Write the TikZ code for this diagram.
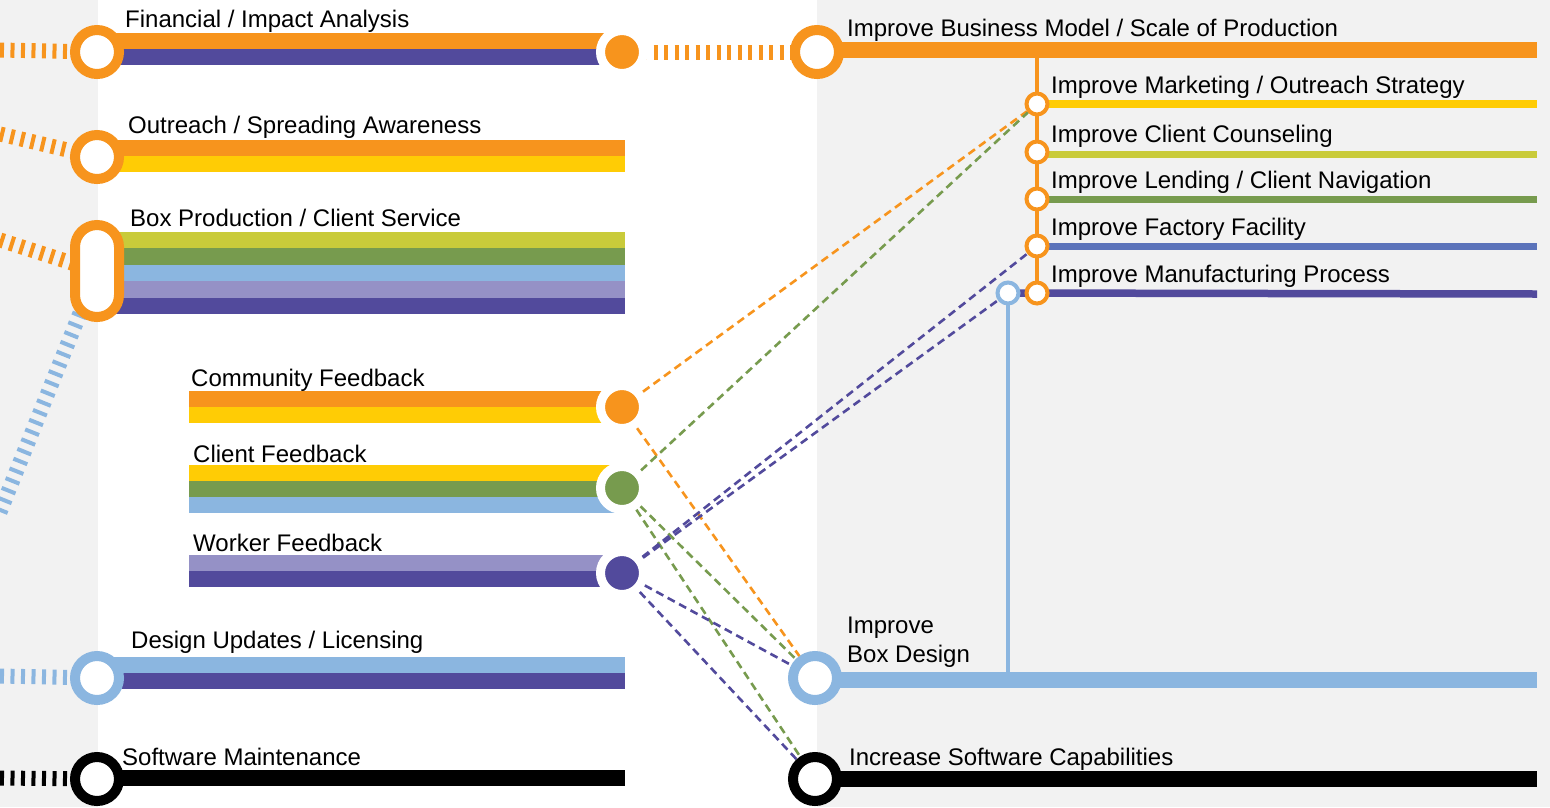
\documentclass[tikz,border=0pt]{standalone}
\usepackage{fontspec}
\setmainfont{Liberation Sans}
\usetikzlibrary{positioning}
\pgfdeclarelayer{back}
\pgfsetlayers{back,main}

\definecolor{mOrange}{HTML}{F7941D}
\definecolor{mPurple}{HTML}{524A9C}
\definecolor{mYellow}{HTML}{FFCC05}
\definecolor{mLime}{HTML}{C9CB3A}
\definecolor{mGreen}{HTML}{779B4E}
\definecolor{mSky}{HTML}{8BB6E0}
\definecolor{mLilac}{HTML}{9591C6}
\definecolor{mBlue}{HTML}{5B73BA}
\definecolor{mGray}{HTML}{F2F2F2}

\tikzset{
  ring/.style={circle, draw=#1, line width=10pt, fill=white, minimum size=44pt, inner sep=0pt},
  dot/.style={circle, draw=white, line width=9pt, fill=#1, minimum size=43pt, inner sep=0pt},
  stop/.style={circle, draw=#1, line width=4pt, fill=white, minimum size=21pt, inner sep=0pt},
  band/.style={draw=#1, line width=16.5pt},
  thin band/.style={draw=#1, line width=7.5pt},
  spur/.style={draw=#1, line width=4pt},
  tie/.style={draw=#1, line width=15pt, dash pattern=on 4pt off 6.5pt},
  feed/.style={draw=#1, line width=2.6pt, dash pattern=on 8pt off 5pt},
  lbl/.style={anchor=base west, inner sep=0pt, font=\fontsize{24}{28}\selectfont},
}

\begin{document}
\begin{tikzpicture}[x=1pt, y=-1pt]
    \useasboundingbox (0,0) rectangle (1550,807);

    % stations, left
    \node[ring=mOrange] (fin) at (97,52) {};
    \node[ring=mOrange] (out) at (97,157) {};
    \node[draw=mOrange, line width=10pt, fill=white, rounded corners=22pt,
          minimum width=44pt, minimum height=92pt, inner sep=0pt] (bpr) at (97,271) {};
    \node[ring=mSky] (dup) at (97,678) {};
    \node[ring=black] (swm) at (97,779) {};
    \node[dot=mOrange] (fdot) at (622,52) {};
    \node[dot=mOrange] (cdot) at (622,407) {};
    \node[dot=mGreen] (kdot) at (622,488) {};
    \node[dot=mPurple] (wdot) at (622,573) {};

    % stations, right
    \node[ring=mOrange] (biz) at (817,52) {};
    \node[stop=mOrange] (mkt) at (1037,104) {};
    \node[stop=mOrange] (cns) at (1037,152) {};
    \node[stop=mOrange] (lnd) at (1037,199) {};
    \node[stop=mOrange] (fac) at (1037,246) {};
    \node[stop=mOrange] (mfg) at (1037,293) {};
    \node[stop=mSky] (lbx) at (1008,293) {};
    \node[ring=mSky] (bxd) at (815,678) {};
    \node[ring=black] (swc) at (815,779) {};

    % free ends
    \coordinate (finIn) at (0,50);
    \coordinate (outIn) at (0,134);
    \coordinate (bprIn) at (0,240);
    \coordinate (bprSky) at (0,512);
    \coordinate (dupIn) at (0,676);
    \coordinate (swmIn) at (0,778);

    \begin{pgfonlayer}{back}
        \fill[mGray] (0,0) rectangle (98,807);
        \fill[white] (98,0) rectangle (817,807);
        \fill[mGray] (817,0) rectangle (1550,807);

        \draw[tie=mOrange] (finIn) -- (fin.center);
        \draw[tie=mOrange] (outIn) -- (out.center);
        \draw[tie=mOrange] (bprIn) -- (bpr.center);
        \draw[tie=mSky] (bprSky) -- (bpr.center);
        \draw[tie=mSky] (dupIn) -- (dup.center);
        \draw[tie=black] (swmIn) -- (swm.center);
        \draw[tie=mOrange] (fdot.center) -- (biz.center);

        \foreach \c/\y in {mOrange/41, mPurple/57}
            \draw[band=\c] (97,\y) -- (622,\y);
        \foreach \c/\y in {mOrange/148, mYellow/164}
            \draw[band=\c] (97,\y) -- (625,\y);
        \foreach \c/\y in {mLime/240, mGreen/256.5, mSky/273, mLilac/289.5, mPurple/306}
            \draw[band=\c] (97,\y) -- (625,\y);
        \foreach \c/\y in {mOrange/399, mYellow/415}
            \draw[band=\c] (189,\y) -- (622,\y);
        \foreach \c/\y in {mYellow/473.5, mGreen/489.5, mSky/505}
            \draw[band=\c] (189,\y) -- (622,\y);
        \foreach \c/\y in {mLilac/563, mPurple/579}
            \draw[band=\c] (189,\y) -- (622,\y);
        \foreach \c/\y in {mSky/665, mPurple/681}
            \draw[band=\c] (97,\y) -- (625,\y);
        \draw[band=black] (97,778) -- (625,778);

        \draw[band=mOrange] (817,50) -- (1537,50);
        \draw[spur=mOrange] (1037,50) -- (mfg.center);
        \foreach \c/\y in {mYellow/104, mLime/154.5, mGreen/199.5, mBlue/246.5}
            \draw[thin band=\c] (1037,\y) -- (1537,\y);
        \draw[thin band=mPurple] (lbx.center) -- (1537,294);
        \draw[spur=mSky] (lbx.center) -- (1008,680);
        \draw[band=mSky] (815,680) -- (1537,680);
        \draw[band=black] (815,779) -- (1537,779);
    \end{pgfonlayer}

    % feedback links
    \draw[feed=mOrange] (cdot) -- (mkt);
    \draw[feed=mOrange] (cdot) -- (bxd);
    \draw[feed=mGreen] (kdot) -- (mkt);
    \draw[feed=mGreen] (kdot) -- (bxd);
    \draw[feed=mGreen] (kdot) -- (swc);
    \draw[feed=mPurple] (wdot) -- (fac);
    \draw[feed=mPurple] (wdot) -- (lbx);
    \draw[feed=mPurple] (wdot) -- (bxd);
    \draw[feed=mPurple] (wdot) -- (swc);

    % labels
    \node[lbl] (finT) at (125,27) {Financial / Impact Analysis};
    \node[lbl] (outT) at (128,133) {Outreach / Spreading Awareness};
    \node[lbl] (bprT) at (130,226) {Box Production / Client Service};
    \node[lbl] (cdotT) at (191,386) {Community Feedback};
    \node[lbl] (kdotT) at (193,462) {Client Feedback};
    \node[lbl] (wdotT) at (193,551) {Worker Feedback};
    \node[lbl] (dupT) at (131,648) {Design Updates / Licensing};
    \node[lbl] (swmT) at (122,765) {Software Maintenance};
    \node[lbl] (bizT) at (847,36) {Improve Business Model / Scale of Production};
    \node[lbl] (mktT) at (1051,93) {Improve Marketing / Outreach Strategy};
    \node[lbl] (cnsT) at (1051,142) {Improve Client Counseling};
    \node[lbl] (lndT) at (1051,188) {Improve Lending / Client Navigation};
    \node[lbl] (facT) at (1051,235) {Improve Factory Facility};
    \node[lbl] (mfgT) at (1051,282) {Improve Manufacturing Process};
    \node[lbl] (bxdT) at (847,633) {Improve};
    \node[lbl] (bxdU) at (847,662) {Box Design};
    \node[lbl] (swcT) at (849,765) {Increase Software Capabilities};
\end{tikzpicture}
\end{document}
